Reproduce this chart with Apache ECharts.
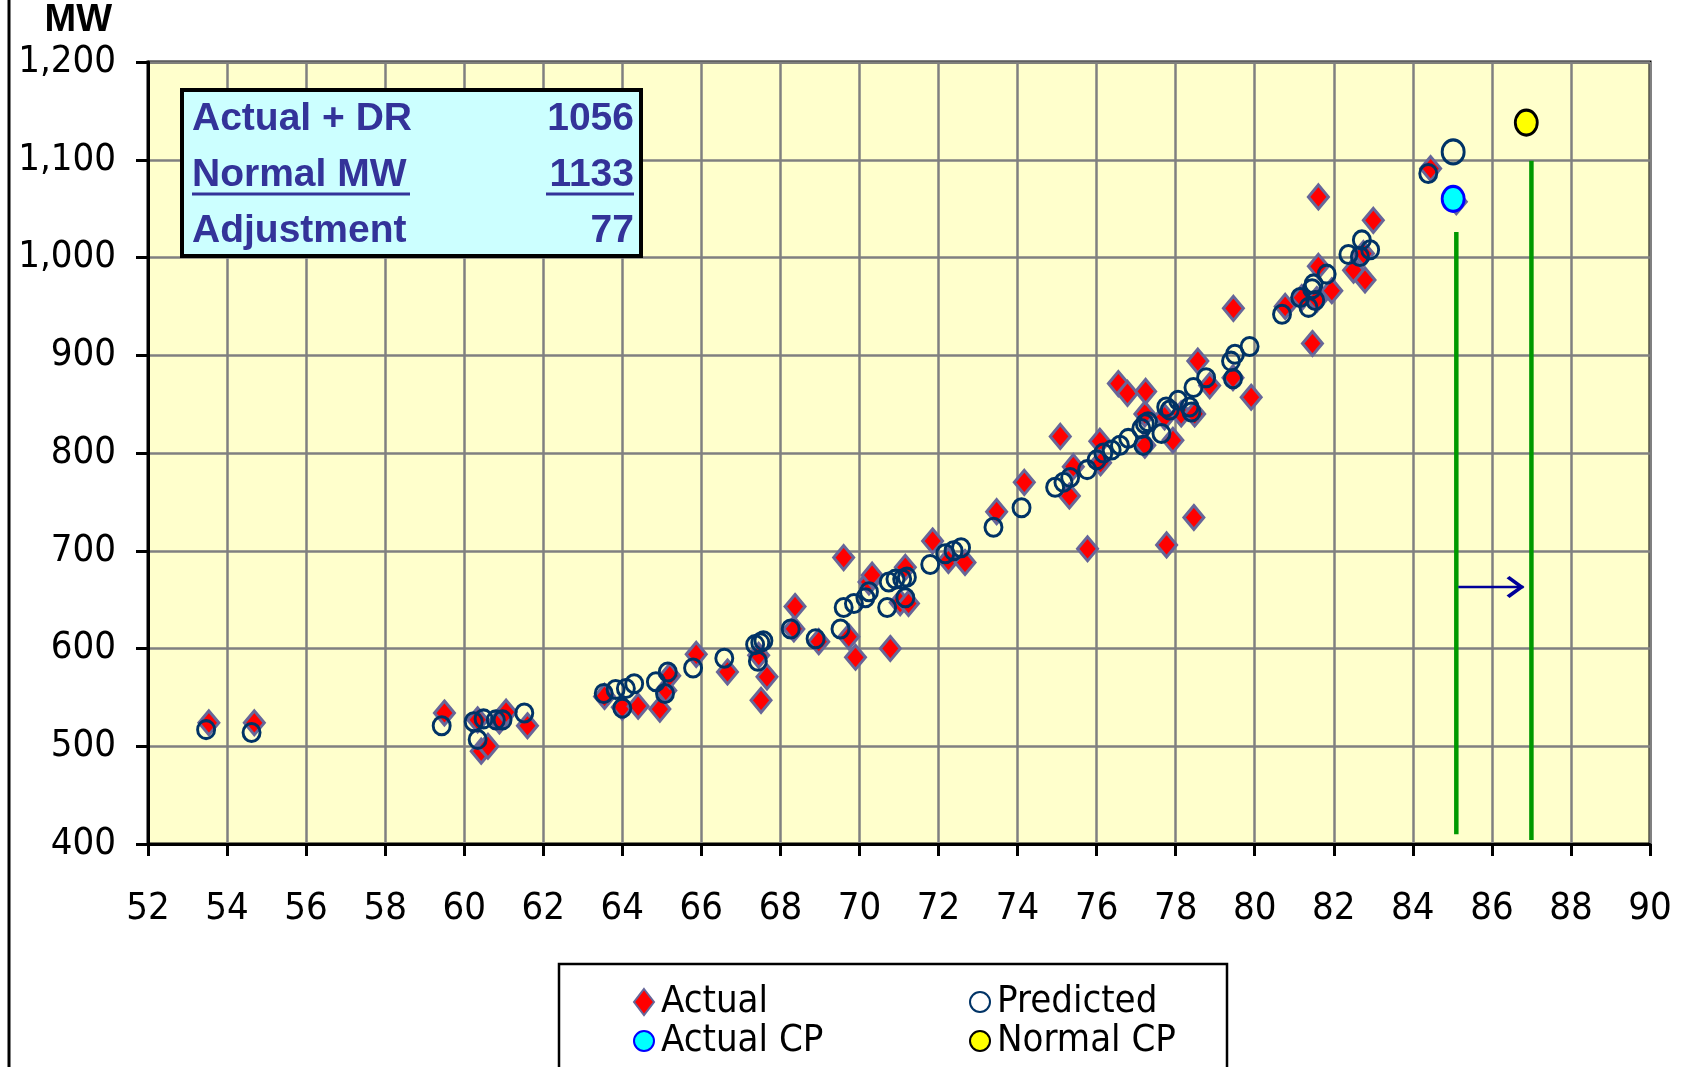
<!DOCTYPE html>
<html>
<head>
<meta charset="utf-8">
<title>MW vs Temperature</title>
<script src="https://cdn.jsdelivr.net/npm/echarts@6/dist/echarts.min.js"></script>
<style>
  html, body { margin: 0; padding: 0; background: #fff; }
  #chart { width: 1698px; height: 1067px; }
</style>
</head>
<body>
<div id="chart"></div>
<script>
// actual load [temp, MW]
const actual = [
  [53.54, 524], [54.69, 524], [59.5, 534], [60.34, 527], [60.43, 495], [60.6, 500], [60.89, 526], [61.06, 535], [61.6, 521],
  [63.55, 551], [64.0, 540], [64.4, 541], [64.95, 538], [65.1, 557], [65.2, 572], [65.87, 594],
  [66.66, 576], [67.45, 593], [67.51, 547], [67.66, 571], [68.34, 620], [68.37, 643], [68.97, 607],
  [69.6, 693], [69.73, 612], [69.9, 591], [70.24, 668], [70.32, 675], [70.78, 600], [71.03, 647], [71.16, 683], [71.24, 646],
  [71.85, 710], [72.25, 690], [72.67, 688], [73.47, 740], [74.17, 770], [75.08, 817], [75.31, 756], [75.41, 786], [75.77, 702],
  [76.08, 812], [76.1, 790], [76.55, 871], [76.78, 861], [77.22, 840], [77.24, 863], [77.22, 808], [77.72, 837], [77.77, 706], [77.93, 813],
  [78.14, 840], [78.46, 734], [78.48, 840], [78.56, 894], [78.86, 869], [79.45, 877], [79.46, 948], [79.91, 857],
  [80.77, 950], [81.19, 959], [81.46, 912], [81.57, 957], [81.61, 991], [81.61, 1062], [81.95, 966], [82.5, 987], [82.75, 1004], [82.79, 977], [83.0, 1038],
  [84.45, 1091], [85.1, 1057]
];
// predicted load [temp, MW]
const predicted = [
  [53.47, 517], [54.62, 514], [59.43, 521], [60.24, 525], [60.34, 507], [60.49, 528], [60.8, 527], [60.97, 527], [61.52, 534],
  [63.53, 554], [63.83, 558], [64.0, 539], [64.09, 559], [64.3, 564], [64.85, 566], [65.08, 554], [65.15, 576], [65.79, 580],
  [66.58, 590], [67.36, 604], [67.43, 587], [67.49, 606], [67.57, 608], [68.26, 620], [68.89, 610], [69.52, 620], [69.6, 642], [69.86, 646],
  [70.15, 652], [70.24, 658], [70.7, 642], [70.74, 668], [70.91, 671], [71.08, 671], [71.16, 652], [71.2, 673], [71.79, 686],
  [72.17, 697], [72.38, 700], [72.57, 703], [73.39, 724], [74.1, 744], [74.95, 765], [75.16, 770], [75.33, 775], [75.76, 783],
  [76.0, 793], [76.17, 800], [76.38, 803], [76.59, 808], [76.8, 815], [77.13, 825], [77.18, 808], [77.22, 830], [77.3, 832], [77.64, 820],
  [77.76, 847], [77.85, 844], [78.06, 854], [78.35, 847], [78.4, 842], [78.45, 867], [78.77, 877], [79.4, 894], [79.45, 876], [79.5, 901], [79.87, 909],
  [80.69, 942], [81.15, 959], [81.36, 949], [81.45, 968], [81.49, 973], [81.53, 956], [81.82, 983], [82.37, 1003], [82.66, 1001], [82.71, 1018], [82.92, 1008],
  [84.39, 1086]
];
const predictedCP = [[85.02, 1108]];
const actualCP = [[85.02, 1060]];
const normalCP = [[86.87, 1138]];
// green markers + shift arrow
const actualCPLine = [[85.1, 410], [85.1, 1026]];
const normalCPLine = [[87.0, 404], [87.0, 1099]];
const shiftArrow = [[85.15, 663], [86.8, 663]];
// summary box
const summaryLabels = ['Actual + DR', 'Normal MW', 'Adjustment'];
const summaryValues = [1056, 1133, 77];

const tickFont = '"Liberation Sans Narrow", "DejaVu Sans Condensed", sans-serif';
const boxFont = '"Liberation Sans", Arial, sans-serif';

let myChart = echarts.init(document.getElementById('chart'));

const rowY = [119, 175, 231];
let boxItems = [
  {type: 'rect', z: 100, shape: {x: 182, y: 90, width: 459, height: 166},
    style: {fill: '#CCFFFF', stroke: '#000', lineWidth: 4}}
];
summaryLabels.forEach((lbl, i) => {
  boxItems.push({type: 'text', z: 101, x: 192, y: rowY[i],
    style: {text: lbl, font: 'bold 39px ' + boxFont, fill: '#333399', textVerticalAlign: 'middle'}});
  boxItems.push({type: 'text', z: 101, x: 634, y: rowY[i],
    style: {text: String(summaryValues[i]), font: 'bold 39px ' + boxFont, fill: '#333399', textAlign: 'right', textVerticalAlign: 'middle'}});
});
// underline row 2
boxItems.push({type: 'line', z: 101, shape: {x1: 192, y1: 194, x2: 410, y2: 194}, style: {stroke: '#333399', lineWidth: 3}});
boxItems.push({type: 'line', z: 101, shape: {x1: 546, y1: 194, x2: 634, y2: 194}, style: {stroke: '#333399', lineWidth: 3}});

const legendText = {fontFamily: tickFont, fontSize: 38, color: '#000', width: 286, lineHeight: 40, padding: [0, 0, 0, 2]};

myChart.setOption({
  animation: false,
  backgroundColor: '#fff',
  grid: {
    left: 148, right: 48, top: 62, bottom: 223,
    show: true, backgroundColor: '#FFFFCC', borderColor: '#000', borderWidth: 3
  },
  xAxis: {
    type: 'value', min: 52, max: 90, interval: 2,
    axisLine: {show: true, onZero: false, lineStyle: {color: '#000', width: 3}},
    axisTick: {show: true, length: 12, lineStyle: {color: '#000', width: 3}},
    axisLabel: {color: '#000', fontFamily: tickFont, fontSize: 38, margin: 46},
    splitLine: {show: true, lineStyle: {color: '#808080', width: 2.5}}
  },
  yAxis: {
    type: 'value', min: 400, max: 1200, interval: 100,
    name: 'MW', nameLocation: 'end', nameGap: 22,
    nameTextStyle: {color: '#000', fontFamily: boxFont, fontWeight: 'bold', fontSize: 38, align: 'right', padding: [0, 36, 0, 0]},
    axisLine: {show: true, onZero: false, lineStyle: {color: '#000', width: 3}},
    axisTick: {show: true, length: 12, lineStyle: {color: '#000', width: 3}},
    axisLabel: {color: '#000', fontFamily: tickFont, fontSize: 38, margin: 32,
      formatter: v => v.toLocaleString('en-US')},
    splitLine: {show: true, lineStyle: {color: '#808080', width: 2.5}}
  },
  legend: [
    {data: ['Actual', 'Predicted'], left: 628, top: 977, itemWidth: 20, itemHeight: 26, itemGap: 22,
      selectedMode: false, textStyle: legendText},
    {data: ['Actual CP', 'Normal CP'], left: 628, top: 1016, itemWidth: 20, itemHeight: 26, itemGap: 22,
      selectedMode: false, textStyle: legendText}
  ],
  graphic: [
    {type: 'line', shape: {x1: 9, y1: 0, x2: 9, y2: 1067}, style: {stroke: '#000', lineWidth: 3}},
    {type: 'rect', z: 50, shape: {x: 559, y: 964, width: 668, height: 120}, style: {fill: 'none', stroke: '#000', lineWidth: 2.5}}
  ].concat(boxItems),
  series: [
    {
      name: 'Actual CP line', type: 'line', data: actualCPLine, symbol: 'none', z: 2,
      lineStyle: {color: '#009900', width: 4.5}, silent: true
    },
    {
      name: 'Normal CP line', type: 'line', data: normalCPLine, symbol: 'none', z: 2,
      lineStyle: {color: '#009900', width: 4.5}, silent: true
    },
    {
      name: 'Shift', type: 'line', data: shiftArrow, z: 2, silent: true,
      symbol: (val, params) => params.dataIndex === 1 ? 'path://M2,0 L12,9 L2,18 L0,16 L8,9 L0,2 Z' : 'none',
      symbolSize: [18, 22], symbolOffset: [-8, 0],
      itemStyle: {color: '#000099'},
      lineStyle: {color: '#000099', width: 2.5}
    },
    {
      name: 'Actual', type: 'scatter', data: actual, symbol: 'diamond', symbolSize: [20, 24], z: 3,
      itemStyle: {color: '#FF0000', borderColor: '#666699', borderWidth: 3, opacity: 1}
    },
    {
      name: 'Predicted', type: 'scatter', data: predicted, symbol: 'circle', symbolSize: [17, 18], z: 4,
      itemStyle: {color: 'rgba(0,0,0,0)', borderColor: '#003366', borderWidth: 3, opacity: 1}
    },
    {
      name: 'Predicted CP', type: 'scatter', data: predictedCP, symbol: 'circle', symbolSize: [22, 24], z: 4,
      itemStyle: {color: 'rgba(0,0,0,0)', borderColor: '#003366', borderWidth: 3, opacity: 1}
    },
    {
      name: 'Actual CP', type: 'scatter', data: actualCP, symbol: 'circle', symbolSize: [22, 25], z: 5,
      itemStyle: {color: '#00FFFF', borderColor: '#0000FF', borderWidth: 3, opacity: 1}
    },
    {
      name: 'Normal CP', type: 'scatter', data: normalCP, symbol: 'circle', symbolSize: [22, 25], z: 5,
      itemStyle: {color: '#FFFF00', borderColor: '#000', borderWidth: 3, opacity: 1}
    }
  ]
});

window.onresize = function () {
  myChart.resize();
};
</script>
</body>
</html>
